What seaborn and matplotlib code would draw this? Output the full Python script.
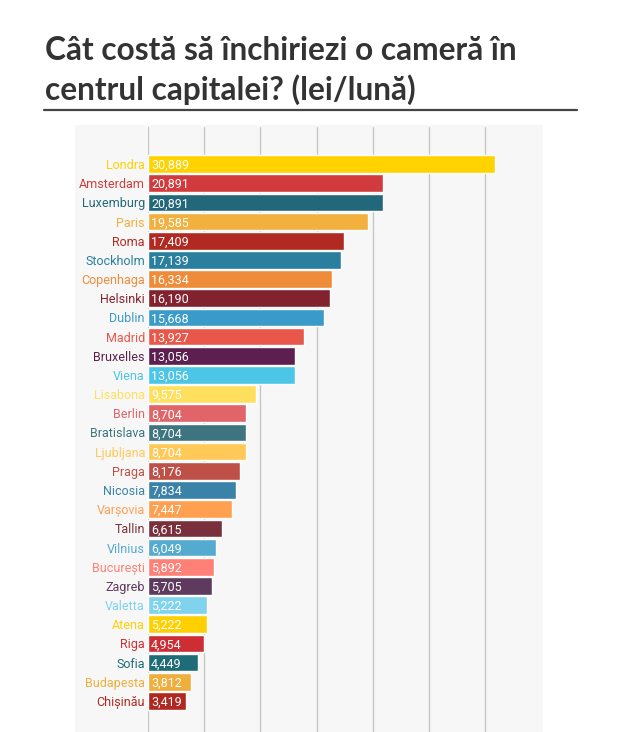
import matplotlib
matplotlib.use("Agg")
import matplotlib.pyplot as plt
import seaborn as sns
import pandas as pd
from matplotlib.lines import Line2D
from matplotlib.patches import Rectangle

cities = ["Londra", "Amsterdam", "Luxemburg", "Paris", "Roma", "Stockholm",
          "Copenhaga", "Helsinki", "Dublin", "Madrid", "Bruxelles", "Viena",
          "Lisabona", "Berlin", "Bratislava", "Ljubljana", "Praga", "Nicosia",
          "Varșovia", "Tallin", "Vilnius", "București", "Zagreb", "Valetta",
          "Atena", "Riga", "Sofia", "Budapesta", "Chișinău"]
values = [30889, 20891, 20891, 19585, 17409, 17139, 16334, 16190, 15668, 13927,
          13056, 13056, 9575, 8704, 8704, 8704, 8176, 7834, 7447, 6615,
          6049, 5892, 5705, 5222, 5222, 4954, 4449, 3812, 3419]
value_labels = ["30,889", "20,891", "20,891", "19,585", "17,409", "17,139",
                "16,334", "16,190", "15,668", "13,927", "13,056", "13,056",
                "9,575", "8,704", "8,704", "8,704", "8,176", "7,834", "7,447",
                "6,615", "6,049", "5,892", "5,705", "5,222", "5,222", "4,954",
                "4,449", "3,812", "3,419"]
colors = ["#FFD200", "#D13B3E", "#22687A", "#F2B03E", "#B02A22", "#2A7F9E",
          "#EF8C3A", "#83222F", "#3A9BC8", "#E8574A", "#5C1F4F", "#4CC6E6",
          "#FFDF5E", "#E06468", "#3D7480", "#FFC857", "#BE5048", "#3A82A8",
          "#FFA050", "#7A303C", "#55AACF", "#FF8077", "#5E3A5E", "#7FD3EC",
          "#FFD000", "#CC2E33", "#1E6C78", "#F0AE3C", "#B0281F"]
title_lines = ["Cât costă să închiriezi o cameră în",
               "centrul capitalei? (lei/lună)"]

df = pd.DataFrame({"city": cities, "value": values})

sns.set_theme(style="white")
label_font = ["Roboto", "DejaVu Sans"]
plt.rcParams["font.family"] = label_font

W, H = 620, 732
fig = plt.figure(figsize=(W / 100, H / 100), dpi=100)
fig.patch.set_facecolor("white")

# light dotted-looking background panel
bg = Rectangle((75 / W, 0), (543 - 75) / W, (H - 125) / H,
               transform=fig.transFigure, facecolor="#f7f7f7",
               edgecolor="none", zorder=-5)
fig.add_artist(bg)

ax = fig.add_axes([148 / W, 0, (543 - 148) / W, (H - 127) / H])
ax.set_zorder(1)
ax.patch.set_alpha(0)

sns.barplot(data=df, y="city", x="value", hue="city", palette=colors,
            order=cities, hue_order=cities, legend=False, width=0.92,
            saturation=1, ax=ax, orient="h", zorder=3)

ax.set_xlim(0, 35160)
ax.set_ylim(29.62, -1.93)
ax.set_xticks(range(0, 30001, 5000))
ax.xaxis.grid(True, color="#c4c4c4", linewidth=0.9, zorder=0)
ax.yaxis.grid(False)
ax.set_axisbelow(True)
for s in ax.spines.values():
    s.set_visible(False)
ax.tick_params(axis="x", length=0, labelbottom=False)
ax.tick_params(axis="y", length=0, pad=2.2)
ax.set_xlabel("")
ax.set_ylabel("")

for lbl, c in zip(ax.get_yticklabels(), colors):
    lbl.set_color(c)
    lbl.set_fontsize(9)
    lbl.set_family(label_font)
    lbl.set_verticalalignment("center_baseline")

for i, (v, t) in enumerate(zip(values, value_labels)):
    ax.annotate(t, xy=(0, i), xytext=(2.2, 0), textcoords="offset points",
                ha="left", va="center_baseline", color="white", fontsize=9,
                family=label_font, zorder=5)

for k, (line, base) in enumerate(zip(title_lines, [60, 100])):
    fig.text(45 / W, 1 - base / H, line, ha="left", va="baseline",
             fontsize=22.8, fontweight="bold", color="#333333",
             family=["Lato", "DejaVu Sans"])

fig.add_artist(Line2D([44 / W, 577 / W], [1 - 110 / H, 1 - 110 / H],
                      transform=fig.transFigure, color="#444444",
                      linewidth=1.6))

fig.savefig("out.png", dpi=100)
